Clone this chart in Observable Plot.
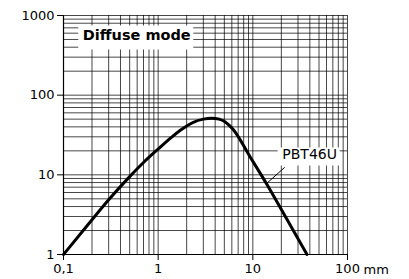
<!DOCTYPE html>
<html>
<head>
<meta charset="utf-8">
<script src="https://cdn.jsdelivr.net/npm/d3@7"></script>
<script src="https://cdn.jsdelivr.net/npm/@observablehq/plot@0.6"></script>
<style>
  html, body { margin: 0; padding: 0; background: #fff; }
</style>
</head>
<body>
<div id="chart"></div>
<script>
// Curve (PBT46U, diffuse mode): distance [mm] vs excess gain
const distance = [0.1, 0.2,  0.3,  0.5, 0.7,  1.0,  1.4, 1.7, 2.35, 3.0, 3.67, 4.4, 5.07, 5.6, 6.2, 9.3, 13.9, 22.6, 37.3];
const gain     = [1,   2.73, 4.86, 9.5, 14.3, 21.1, 30,  36,  45.7, 50,  51.5, 50,  46.5, 42,  37,  17,  7.8,  2.85, 1];

// Axis ticks and labels
const xTicks = [0.1, 1, 10, 100];
const xTickLabels = ["0,1", "1", "10", "100"];
const yTicks = [1, 10, 100, 1000];
const yTickLabels = ["1", "10", "100", "1000"];
const xUnit = "mm";

// Annotations
const title = "Diffuse mode";
const seriesName = "PBT46U";

// Grid lines: 1..9 × each decade
const xGrid = [];
for (const dec of [0.1, 1, 10]) for (let k = 1; k <= 9; k++) xGrid.push(+(k * dec).toPrecision(3));
xGrid.push(100);
const yGrid = [];
for (const dec of [1, 10, 100]) for (let k = 1; k <= 9; k++) yGrid.push(k * dec);
yGrid.push(1000);

const curve = distance.map((d, i) => ({distance: d, gain: gain[i]}));

function boxSymbol(w, h) {
  return { draw(ctx) { ctx.rect(-w / 2, -h / 2, w, h); } };
}

const titleAnchor = [{x: 0.594, y: 560}];
const labelAnchor = [{x: 39.8, y: 18.0}];
const leader = [{x1: 14.0, y1: 7.8, x2: 21.7, y2: 12.4}];

const chart = Plot.plot({
  width: 409,
  height: 279,
  marginLeft: 63,
  marginRight: 62,
  marginTop: 15,
  marginBottom: 25,
  style: { fontFamily: "DejaVu Sans", fontSize: "13px", color: "#000", background: "#fff" },
  x: { type: "log", domain: [0.1, 100] },
  y: { type: "log", domain: [1, 1000] },
  marks: [
    Plot.ruleX(xGrid, { stroke: "#000", strokeOpacity: 0.72, strokeWidth: 1 }),
    Plot.ruleY(yGrid, { stroke: "#000", strokeOpacity: 0.72, strokeWidth: 1 }),
    // white label backgrounds
    Plot.dot(titleAnchor, { x: "x", y: "y", dx: -1, dy: 2, symbol: boxSymbol(115, 24), fill: "white", stroke: "none" }),
    Plot.dot(labelAnchor, { x: "x", y: "y", dx: -1, dy: 2, symbol: boxSymbol(62, 18), fill: "white", stroke: "none" }),
    // axis lines
    Plot.ruleX([0.1], { stroke: "#000", strokeWidth: 1.2 }),
    Plot.ruleY([1], { stroke: "#000", strokeWidth: 1.2 }),
    Plot.axisX({ ticks: xTicks, tickFormat: (d) => xTickLabels[xTicks.indexOf(d)], tickSize: 6, tickPadding: 3, fontSize: 13, label: null, stroke: "#000" }),
    Plot.axisY({ ticks: yTicks, tickFormat: (d) => yTickLabels[yTicks.indexOf(d)], tickSize: 6, tickPadding: 3, fontSize: 13, label: null, stroke: "#000" }),
    Plot.text([xUnit], { x: 100, y: 1, dx: 16, dy: 15, textAnchor: "start", fontSize: 13, fill: "#000" }),
    // curve
    Plot.line(curve, { x: "distance", y: "gain", stroke: "#000", strokeWidth: 3, curve: "monotone-x" }),
    // leader line
    Plot.link(leader, { x1: "x1", y1: "y1", x2: "x2", y2: "y2", stroke: "#000", strokeWidth: 1 }),
    Plot.text(titleAnchor, { x: "x", y: "y", text: () => title, fontWeight: "bold", fontSize: 14.5, fill: "#000" }),
    Plot.text(labelAnchor, { x: "x", y: "y", text: () => seriesName, fontSize: 14, fill: "#000" })
  ]
});

document.getElementById("chart").appendChild(chart);
</script>
</body>
</html>
